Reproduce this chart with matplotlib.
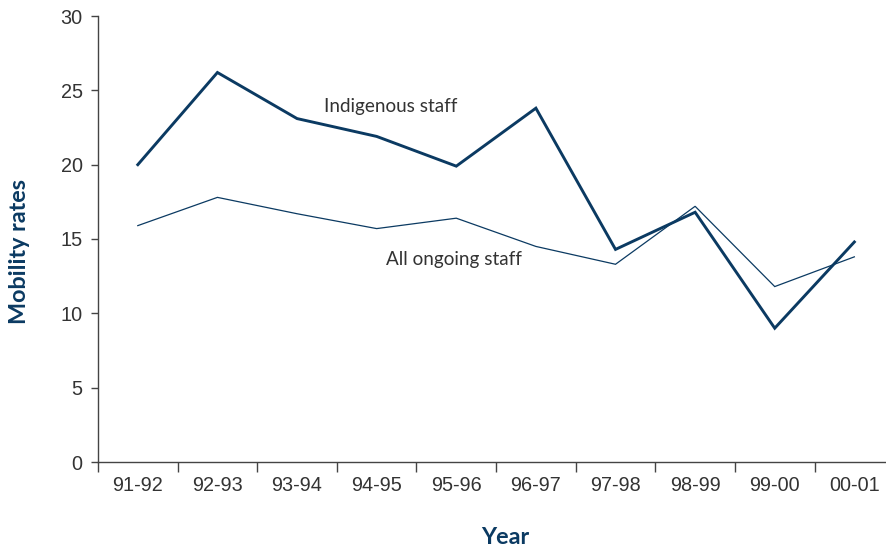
import matplotlib
matplotlib.use("Agg")
import matplotlib.pyplot as plt
import numpy as np

years = ["91-92", "92-93", "93-94", "94-95", "95-96",
         "96-97", "97-98", "98-99", "99-00", "00-01"]
indigenous = [20.0, 26.2, 23.1, 21.9, 19.9, 23.8, 14.3, 16.8, 9.0, 14.8]
all_ongoing = [15.9, 17.8, 16.7, 15.7, 16.4, 14.5, 13.3, 17.2, 11.8, 13.8]

navy = "#0b3a62"
axis_grey = "#444444"
text_grey = "#333333"

fig = plt.figure(figsize=(8.87, 5.52), dpi=100)
ax = fig.add_axes([98 / 887, 90 / 552, 1 - 98 / 887, 446 / 552])

x = np.arange(len(years))
ax.plot(x, indigenous, color=navy, lw=2.1, solid_joinstyle="miter")
ax.plot(x, all_ongoing, color=navy, lw=0.9, solid_joinstyle="miter")

ax.set_xlim(-0.5, 9.41)
ax.set_ylim(0, 30)

for side in ("top", "right"):
    ax.spines[side].set_visible(False)
for side in ("left", "bottom"):
    ax.spines[side].set_color(axis_grey)
    ax.spines[side].set_linewidth(1.0)

ax.set_yticks(np.arange(0, 31, 5))
ax.tick_params(axis="y", direction="out", length=5, width=1, color=axis_grey,
               labelsize=14.3, labelcolor=text_grey, pad=6)
ax.set_yticklabels([str(v) for v in range(0, 31, 5)], family="Liberation Sans")

# x ticks sit on category boundaries, labels centred under each category
ax.set_xticks(np.arange(-0.5, 9.0, 1.0))
ax.set_xticklabels([])
ax.set_xticks(x, minor=True)
ax.set_xticklabels(years, minor=True, family="Liberation Sans")
ax.tick_params(axis="x", which="major", direction="out", length=7, width=1,
               color=axis_grey)
ax.tick_params(axis="x", which="minor", length=0, labelsize=14.3,
               labelcolor=text_grey, pad=10)

ax.text(3.18, 23.9, "Indigenous staff", family="Lato", fontsize=13.6,
        color=text_grey, ha="center", va="center")
ax.text(3.97, 13.65, "All ongoing staff", family="Lato", fontsize=13.6,
        color=text_grey, ha="center", va="center")

fig.text(505 / 887, 1 - 538 / 552, "Year", family="Lato", fontweight="bold",
         fontsize=16.8, color=navy, ha="center", va="center")
fig.text(20 / 887, 1 - 252 / 552, "Mobility rates", family="Lato",
         fontweight="bold", fontsize=16.8, color=navy, ha="center", va="center",
         rotation=90)

fig.savefig("out.png", dpi=100)
